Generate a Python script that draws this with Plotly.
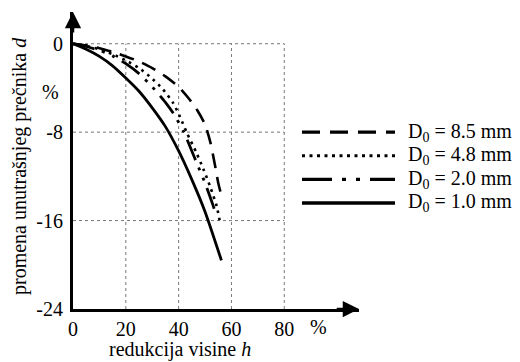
import plotly.graph_objects as go

# Data
labels = ["D<sub>0</sub> = 8.5 mm", "D<sub>0</sub> = 4.8 mm", "D<sub>0</sub> = 2.0 mm", "D<sub>0</sub> = 1.0 mm"]
legend_rows = [1, 2, 3, 4]

x_85 = [0, 5, 10, 15, 20, 25, 30, 35, 40, 44, 47, 50, 52, 53.7, 55, 56.4]
y_85 = [0, -0.15, -0.4, -0.75, -1.15, -1.6, -2.2, -2.95, -3.9, -5.0, -6.0, -7.3, -8.9, -10.9, -12.6, -13.9]

x_48 = [0, 5, 10, 15, 20, 25, 29, 34, 38, 40.5, 43, 46.8, 49.3, 51.9, 54.4, 55.7]
y_48 = [0, -0.2, -0.5, -0.95, -1.5, -2.2, -2.95, -4.1, -5.4, -6.6, -8.0, -9.9, -11.3, -12.9, -14.7, -16.2]

x_20 = [0, 5, 10, 15, 20, 25, 30, 35, 38, 42, 46, 50, 53, 54.2]
y_20 = [0, -0.25, -0.6, -1.1, -1.8, -2.7, -3.9, -5.3, -6.3, -8.0, -10.3, -12.6, -14.6, -15.5]

x_10 = [0, 5, 10, 15, 20, 25, 30, 35, 40, 45, 50, 56.2]
y_10 = [0, -0.5, -1.15, -2.0, -3.1, -4.3, -5.8, -7.5, -9.7, -12.3, -15.2, -19.6]

x_ticks = [0, 20, 40, 60, 80]
y_ticks = [0, -8, -16, -24]

X_MAX = 108.3
Y_MAX = 2.87
FONT = "Liberation Serif, Times New Roman, DejaVu Serif, serif"
W, H = 520, 362

def px_x(p):
    return p / W

def px_y(p):
    return 1 - p / H

fig = go.Figure()
curve_styles = [
    dict(dash="15px,9px", width=2.6),
    dict(dash="2.6px,4.8px", width=2.6),
    dict(dash="22px,8px,3px,8px,3px,8px", width=2.8),
    dict(dash="solid", width=2.8),
]
key_styles = [
    dict(dash="18px,10px", width=3.3),
    dict(dash="3px,4.5px", width=3.0),
    dict(dash="30px,10px,4px,10px,4px,10px", width=3.3),
    dict(dash="solid", width=3.3),
]
for xs, ys, name, st in zip([x_85, x_48, x_20, x_10], [y_85, y_48, y_20, y_10], labels, curve_styles):
    fig.add_trace(go.Scatter(x=xs, y=ys, mode="lines", name=name, showlegend=False,
                             line=dict(color="black", shape="spline", smoothing=0.6, **st),
                             xaxis="x", yaxis="y"))

# legend keys drawn on a small auxiliary axis pair
for row, name, st in zip(legend_rows, labels, key_styles):
    fig.add_trace(go.Scatter(x=[0, 1], y=[row, row], mode="lines", showlegend=False, hoverinfo="skip",
                             line=dict(color="black", **st), xaxis="x2", yaxis="y2"))

shapes = []
for xv in x_ticks[1:]:
    shapes.append(dict(type="line", xref="x", yref="y", x0=xv, x1=xv, y0=-24, y1=0,
                       line=dict(color="#777777", width=1, dash="dot"), layer="below"))
for yv in y_ticks[:-1]:
    shapes.append(dict(type="line", xref="x", yref="y", x0=0, x1=80, y0=yv, y1=yv,
                       line=dict(color="#777777", width=1, dash="dot"), layer="below"))

txt = dict(family=FONT, size=20, color="black")
leg_txt = dict(family=FONT, size=20, color="black")
annotations = [
    dict(x=X_MAX, y=-24, ax=X_MAX - 9, ay=-24, xref="x", yref="y", axref="x", ayref="y",
         showarrow=True, arrowhead=2, arrowsize=1.3, arrowwidth=2.5, arrowcolor="black", text=""),
    dict(x=0, y=Y_MAX, ax=0, ay=Y_MAX - 2.0, xref="x", yref="y", axref="x", ayref="y",
         showarrow=True, arrowhead=2, arrowsize=1.3, arrowwidth=2.5, arrowcolor="black", text=""),
    dict(text="promena unutrašnjeg prečnika <i>d</i>", xref="paper", yref="paper",
         x=px_x(19), y=px_y(166), xanchor="center", yanchor="middle", textangle=-90,
         showarrow=False, font=txt),
    dict(text="redukcija visine <i>h</i>", xref="paper", yref="paper",
         x=px_x(180), y=0, xanchor="center", yanchor="bottom", yshift=-1,
         showarrow=False, font=txt),
    dict(text="%", xref="paper", yref="paper", x=px_x(50), y=px_y(92), xanchor="center", yanchor="middle",
         showarrow=False, font=txt),
    dict(text="%", xref="paper", yref="paper", x=px_x(318), y=px_y(327), xanchor="center", yanchor="middle",
         showarrow=False, font=txt),
]
for row, name in zip(legend_rows, labels):
    annotations.append(dict(text=name, xref="paper", yref="y2", x=px_x(406), y=row,
                            xanchor="left", yanchor="middle", showarrow=False, font=leg_txt))

fig.update_layout(
    width=W, height=H,
    margin=dict(l=0, r=0, t=0, b=0, autoexpand=False),
    paper_bgcolor="white", plot_bgcolor="white",
    font=txt,
    xaxis=dict(domain=[px_x(73), px_x(359)], range=[0, X_MAX], tickvals=x_ticks,
               ticktext=[str(v) for v in x_ticks],
               showgrid=False, zeroline=False, showline=True, linecolor="black", linewidth=3,
               ticks="", tickfont=txt, fixedrange=True, anchor="y"),
    yaxis=dict(domain=[px_y(309), px_y(12)], range=[-24, Y_MAX], tickvals=y_ticks,
               ticktext=[str(v) for v in y_ticks],
               showgrid=False, zeroline=False, showline=True, linecolor="black", linewidth=3,
               ticks="", tickfont=txt, fixedrange=True, anchor="x", ticklabelstandoff=3),
    xaxis2=dict(domain=[px_x(302), px_x(395)], range=[0, 1], visible=False, fixedrange=True, anchor="y2"),
    yaxis2=dict(domain=[px_y(214.8), px_y(120.2)], range=[4.5, 0.5], visible=False, fixedrange=True, anchor="x2"),
    shapes=shapes, annotations=annotations,
    showlegend=False,
)

fig.write_html("out.html", config={"displayModeBar": False},
               post_script="document.body.style.margin='0px';document.body.style.overflow='hidden';")
